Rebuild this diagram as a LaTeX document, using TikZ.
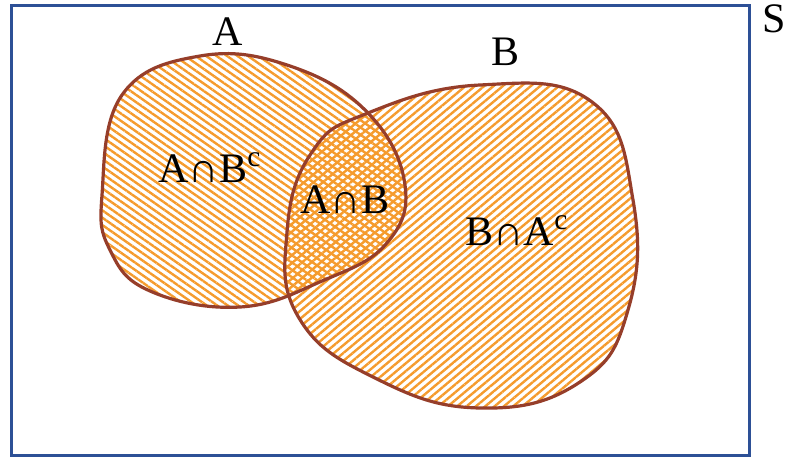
\documentclass[tikz,border=0pt]{standalone}
\usepackage{fontspec}
\setmainfont{Liberation Serif}
\usetikzlibrary{patterns.meta}
\definecolor{hatch}{RGB}{245,155,45}
\definecolor{setline}{RGB}{150,62,42}
\definecolor{space}{RGB}{45,80,150}

\begin{document}
\begin{tikzpicture}[
    x=0.5pt, y=-0.5pt,
    outline/.style={draw=setline, line width=1.6pt},
    hatchA/.style={pattern={Lines[angle=-35,distance=3pt,line width=1.2pt]}, pattern color=hatch},
    hatchB/.style={pattern={Lines[angle=40,distance=3pt,line width=1.2pt]}, pattern color=hatch},
    setlabel/.style={font=\fontsize{21}{25}\selectfont, anchor=base, inner sep=0pt}
]
\useasboundingbox (0,0) rectangle (786,461);

% Set outlines
\def\setA{plot[smooth cycle, tension=0.7] coordinates {(102,195) (122,95) (200,56) (290,66) (368,113) (405,185) (386,244) (322,281) (240,307) (150,291) (110,250)}}
\def\setB{plot[smooth cycle, tension=0.75] coordinates {(368,113) (480,85) (592,102) (633,200) (628,310) (580,382) (480,408) (375,378) (299,318) (287,232) (312,152)}}

% Sample space
\draw[space, line width=1.5pt] (11,5) rectangle (749,455);
\node[setlabel] (labS) at (774,32) {S};

% Hatching
\fill[hatchA] \setA;
\fill[hatchB] \setB;

% Borders
\draw[outline] \setA;
\draw[outline] \setB;

% Labels
\node[setlabel] (labA) at (228,45) {A};
\node[setlabel] (labB) at (505,65) {B};
\node[setlabel] (onlyA) at (210,182) {A∩B\textsuperscript{c}};
\node[setlabel] (both) at (345,213) {A∩B};
\node[setlabel] (onlyB) at (517,245) {B∩A\textsuperscript{c}};

\end{tikzpicture}
\end{document}
